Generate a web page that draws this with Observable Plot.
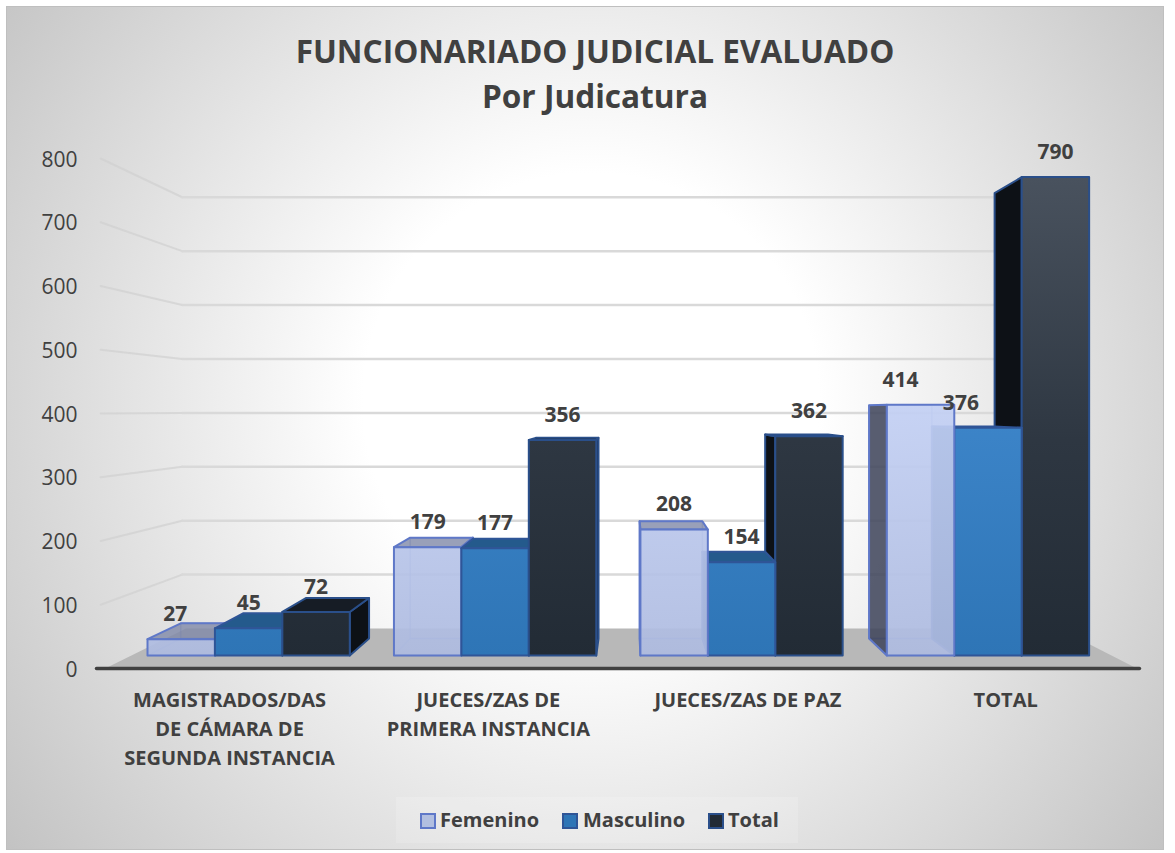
<!DOCTYPE html>
<html lang="es">
<head>
<meta charset="utf-8">
<script src="https://cdn.jsdelivr.net/npm/d3@7"></script>
<script src="https://cdn.jsdelivr.net/npm/@observablehq/plot@0.6"></script>
<style>
  html, body { margin: 0; padding: 0; background: #fff; }
  #page { position: relative; width: 1175px; height: 853px; overflow: hidden; font-family: "Open Sans", sans-serif; color: #404040; }
  #card { position: absolute; left: 6px; top: 6px; width: 1156px; height: 842px; border: 1px solid #bfbfbf;
          background: radial-gradient(circle 760px at 584px 394px, #fff 30%, #c0c0c0 100%); }
  #title { position: relative; height: 140px; box-sizing: border-box; padding-top: 29px; text-align: center;
           font-weight: 700; font-size: 31.6px; line-height: 44.5px; width: 1190px; }
  #chart { position: relative; height: 660px; }
  #legend { position: relative; margin-left: 396px; width: 402px; height: 46px; margin-top: -3px; background: rgba(255,255,255,.16);
            font-weight: 700; font-size: 20px; }
  #legend span { position: absolute; top: 9px; line-height: 28px; white-space: nowrap; }
  #legend i { position: absolute; top: 16px; width: 12px; height: 12px; border: 2px solid; }
</style>
</head>
<body>
<div id="page">
  <div id="card"></div>
  <div id="title">FUNCIONARIADO JUDICIAL EVALUADO<br>Por Judicatura</div>
  <div id="chart"></div>
  <div id="legend"></div>
</div>
<script>
// ---- data ----
const categories = [
  "MAGISTRADOS/DAS\nDE CÁMARA DE\nSEGUNDA INSTANCIA",
  "JUECES/ZAS DE\nPRIMERA INSTANCIA",
  "JUECES/ZAS DE PAZ",
  "TOTAL"
];
const seriesNames = ["Femenino", "Masculino", "Total"];
const femenino = [27, 179, 208, 414];
const masculino = [45, 177, 154, 376];
const total = [72, 356, 362, 790];
const yTicks = [0, 100, 200, 300, 400, 500, 600, 700, 800];
// horizontal nudges of a few value labels, in group units
const labelShift = {"0-0": -0.024, "3-0": -0.081, "3-1": -0.11};
// centre of each category label, in group units
const categoryCentres = [0.333, 1.383, 2.436, 3.482];

// ---- styles ----
const defsHtml = `
<linearGradient id="gTotal" gradientUnits="userSpaceOnUse" x1="0" y1="37" x2="0" y2="515">
  <stop offset="0" stop-color="#49525e"/><stop offset=".55" stop-color="#2e3742"/><stop offset="1" stop-color="#222b35"/>
</linearGradient>
<linearGradient id="gMasc" gradientUnits="userSpaceOnUse" x1="0" y1="280" x2="0" y2="515">
  <stop offset="0" stop-color="#3c84c8"/><stop offset="1" stop-color="#2e75b6"/>
</linearGradient>
<linearGradient id="gFem" gradientUnits="userSpaceOnUse" x1="0" y1="265" x2="0" y2="515">
  <stop offset="0" stop-color="#c3d0f4"/><stop offset="1" stop-color="#aebbe0"/>
</linearGradient>`;
const faceStyles = [
  {front: "url(#gFem)", top: "#7f88a8", side: "#3c4258", stroke: "#5f78c8", frontOpacity: .92, topOpacity: .8, sideOpacity: .85, sw: 2},
  {front: "url(#gMasc)", top: "#245a8c", side: "#1f4e79", stroke: "#2f5597", frontOpacity: 1, topOpacity: 1, sideOpacity: 1, sw: 2},
  {front: "url(#gTotal)", top: "#161c25", side: "#0d1116", stroke: "#2a4f8a", frontOpacity: 1, topOpacity: 1, sideOpacity: 1, sw: 2}
];

// ---- perspective of the 3-D scene, in scale units ----
const barWidth = 0.2736;          // one bar, in group units
const vanishX = 1.954, vanishV = 406.3;
const barPlane = 0.95, barDepth = 0.931, wallDepth = 0.8456;
const floorLeft = -0.172, floorRight = 4.015, wallLeft = -0.19;

const barPoint = (x, v, r = 1) => ({x: vanishX + r * (x - vanishX), y: vanishV + barPlane * r * (v - vanishV)});
const framePoint = (x, v, r = 1) => ({x: vanishX + r * (x - vanishX), y: vanishV + r * (v - vanishV)});
const ring = (pts) => [...pts, pts[0]];

const values = [femenino, masculino, total];
const bars = [];
categories.forEach((c, g) => seriesNames.forEach((s, j) => {
  const x0 = g + j * barWidth, x1 = x0 + barWidth;
  bars.push({g, j, x0, x1, value: values[j][g]});
}));

const polygon = (pts, options) => Plot.line(ring(pts), {x: "x", y: "y", curve: "linear", strokeLinejoin: "round", ...options});

// back-to-front: bars farther from the vanishing point go first
const ordered = bars.slice().sort((a, b) =>
  Math.abs((b.x0 + b.x1) / 2 - vanishX) - Math.abs((a.x0 + a.x1) / 2 - vanishX));

const barMarks = [];
for (const b of ordered) {
  const st = faceStyles[b.j];
  const common = {stroke: st.stroke, strokeWidth: st.sw};
  if (b.j === 0) { // the translucent bars show their hidden edges
    barMarks.push(polygon([barPoint(b.x0, 0, barDepth), barPoint(b.x1, 0, barDepth), barPoint(b.x1, b.value, barDepth), barPoint(b.x0, b.value, barDepth)],
      {fill: "none", stroke: st.stroke, strokeOpacity: .45, strokeWidth: 1.5}));
    barMarks.push(polygon([barPoint(b.x0, 0), barPoint(b.x1, 0), barPoint(b.x1, 0, barDepth), barPoint(b.x0, 0, barDepth)],
      {fill: "none", stroke: st.stroke, strokeOpacity: .35, strokeWidth: 1.5}));
  }
  if (b.x0 > vanishX) {
    barMarks.push(polygon([barPoint(b.x0, 0), barPoint(b.x0, b.value), barPoint(b.x0, b.value, barDepth), barPoint(b.x0, 0, barDepth)],
      {fill: st.side, fillOpacity: st.sideOpacity, ...common}));
  }
  if (b.x1 < vanishX) {
    barMarks.push(polygon([barPoint(b.x1, 0), barPoint(b.x1, b.value), barPoint(b.x1, b.value, barDepth), barPoint(b.x1, 0, barDepth)],
      {fill: st.side, fillOpacity: st.sideOpacity, ...common}));
  }
  if (b.value < vanishV) {
    barMarks.push(polygon([barPoint(b.x0, b.value), barPoint(b.x1, b.value), barPoint(b.x1, b.value, barDepth), barPoint(b.x0, b.value, barDepth)],
      {fill: st.top, fillOpacity: st.topOpacity, ...common}));
  }
  barMarks.push(polygon([barPoint(b.x0, 0), barPoint(b.x1, 0), barPoint(b.x1, b.value), barPoint(b.x0, b.value)],
    {fill: st.front, fillOpacity: st.frontOpacity, ...common}));
}

const wallLevels = yTicks.filter((d) => d > 0);
const wallSides = wallLevels.flatMap((v) => [framePoint(wallLeft, v), framePoint(wallLeft, v, wallDepth)].map((p) => ({...p, v})));
const wallBacks = wallLevels.flatMap((v) => [framePoint(wallLeft, v, wallDepth), framePoint(floorRight, v, wallDepth)].map((p) => ({...p, v})));

const labels = bars.map((b) => {
  const p = barPoint((b.x0 + b.x1) / 2, b.value);
  return {x: p.x + (labelShift[`${b.g}-${b.j}`] || 0), y: p.y, text: String(b.value)};
});
const catLabels = categories.map((text, g) => ({x: categoryCentres[g], text}));

const svg = Plot.plot({
  width: 1175,
  height: 660,
  marginTop: 18,
  marginBottom: 132,
  marginLeft: 85,
  marginRight: 0,
  style: {background: "transparent", fontFamily: "'Open Sans', sans-serif", overflow: "visible"},
  x: {domain: [0, 4], range: [147, 147 + 4 * 246.45], axis: null},
  y: {domain: [0, 800], range: [528, 18]},
  marks: [
    polygon([framePoint(floorLeft, 0), framePoint(floorRight, 0), framePoint(floorRight, 0, wallDepth), framePoint(floorLeft, 0, wallDepth)],
      {fill: "#b8b8b8", stroke: "none"}),
    Plot.line(wallSides, {x: "x", y: "y", z: "v", stroke: "#d0d0d0", strokeWidth: 2, strokeOpacity: .7}),
    Plot.line(wallBacks, {x: "x", y: "y", z: "v", stroke: "#d9d9d9", strokeWidth: 2.5}),
    Plot.axisY({ticks: yTicks, tickSize: 0, tickPadding: 8, dy: 1.5, label: null, fontSize: 21, fill: "#404040", tickFormat: (d) => String(d)}),
    Plot.line([framePoint(floorLeft - 0.035, 0), framePoint(floorRight + 0.01, 0)],
      {x: "x", y: "y", stroke: "#404040", strokeWidth: 3.5, strokeLinecap: "round"}),
    ...barMarks,
    Plot.text(labels, {x: "x", y: "y", text: "text", dy: -25, fontSize: 21, fontWeight: 700, fill: "#404040"}),
    Plot.text(catLabels, {x: "x", y: () => 0, text: "text", dy: 18, lineAnchor: "top", lineHeight: 1.45, fontSize: 20, fontWeight: 700, fill: "#404040"})
  ]
});
const defs = document.createElementNS("http://www.w3.org/2000/svg", "defs");
defs.innerHTML = defsHtml;
svg.insertBefore(defs, svg.firstChild);
document.getElementById("chart").appendChild(svg);

// ---- legend below the chart ----
const swatches = [
  {bg: "#b2bfe0", border: "#5f78c8", sw: 24, tx: 44},
  {bg: "#2e75b6", border: "#2f5597", sw: 166, tx: 187},
  {bg: "#222b35", border: "#2a4f8a", sw: 312, tx: 332}
];
const legend = document.getElementById("legend");
seriesNames.forEach((name, i) => {
  const s = swatches[i];
  const box = document.createElement("i");
  box.style.cssText = `left:${s.sw}px;background:${s.bg};border-color:${s.border}`;
  const label = document.createElement("span");
  label.style.left = s.tx + "px";
  label.textContent = name;
  legend.append(box, label);
});
</script>
</body>
</html>
